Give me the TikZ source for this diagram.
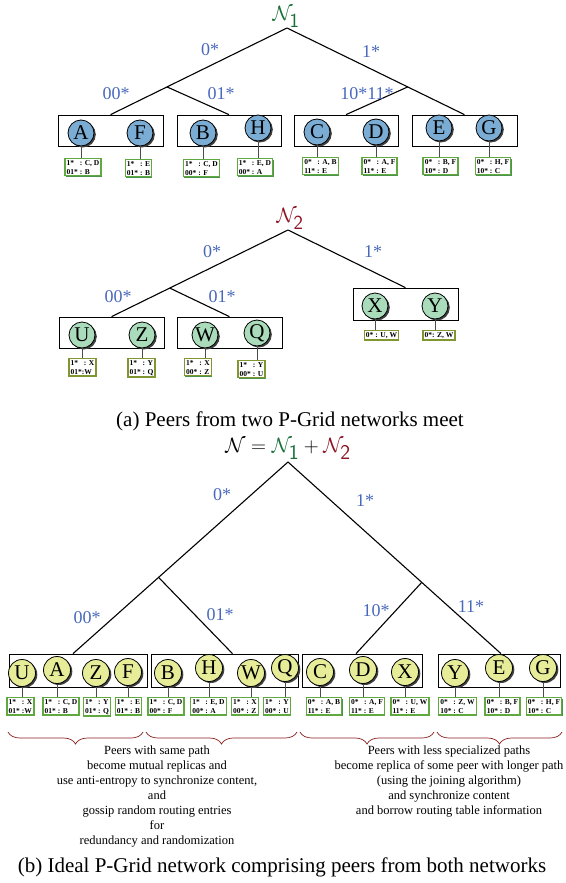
\documentclass[tikz,border=0pt]{standalone}
\usepackage{fontspec}
\setmainfont{Liberation Serif}
\usepackage{tikz}
\usetikzlibrary{calc,shadows,decorations.pathreplacing}
\definecolor{peerblue}{RGB}{122,172,212}
\definecolor{peergreen}{RGB}{170,220,188}
\definecolor{peeryellow}{RGB}{230,236,152}
\definecolor{tabgreen}{RGB}{96,168,64}
\definecolor{tabolive}{RGB}{128,150,48}
\definecolor{pfxblue}{RGB}{72,104,188}
\definecolor{nonegreen}{RGB}{24,112,56}
\definecolor{ntwored}{RGB}{140,20,36}
\definecolor{bracered}{RGB}{140,30,30}

\begin{document}
\begin{tikzpicture}[x=1pt,y=-1pt,
    peer/.style={circle,draw,line width=0.8pt,minimum size=26pt,inner sep=0pt,
        font=\fontsize{21}{21}\selectfont,
        drop shadow={shadow xshift=1.8pt,shadow yshift=-1.5pt,fill=black!75,opacity=1}},
    peerone/.style={peer,fill=peerblue},
    peertwo/.style={peer,fill=peergreen},
    peerall/.style={peer,fill=peeryellow,minimum size=27pt},
    grp/.style={draw,line width=0.7pt,minimum height=31pt,inner sep=0pt},
    rtab/.style={draw=tabgreen,line width=1.4pt,fill=white,inner sep=1.6pt,align=left,anchor=north,
        font=\fontsize{7.5}{8.8}\selectfont\bfseries,
        drop shadow={shadow xshift=0.8pt,shadow yshift=-0.8pt,fill=black!60!green,opacity=0.7}},
    rtabtwo/.style={rtab,draw=tabolive},
    pfx/.style={text=pfxblue,font=\fontsize{18}{18}\selectfont,inner sep=0pt},
    branch/.style={line width=1.1pt},
    stem/.style={line width=0.8pt,draw=black!70},
    brc/.style={draw=bracered,line width=0.7pt,decorate,decoration={brace,mirror,amplitude=12pt,aspect=0.5}},
    note/.style={align=center,font=\fontsize{12.5}{15}\selectfont,inner sep=0pt},
    capt/.style={font=\fontsize{21}{21}\selectfont,inner sep=0pt}]
\useasboundingbox (0,0) rectangle (565,883);

% first network N1
\node[text=nonegreen,font=\fontsize{20}{20}\selectfont,inner sep=0pt] (nameone) at (286,17) {$\mathcal{N}_{\textsf{1}}$};
\node[grp,minimum width=105pt] (g1) at (110.5,130.5) {};
\node[grp,minimum width=104pt] (g2) at (229,130.5) {};
\node[grp,minimum width=104pt] (g3) at (346,130.5) {};
\node[grp,minimum width=105pt] (g4) at (464.5,130.5) {};
\coordinate (r1) at (287,28);
\coordinate (j1) at ($(r1)!0.68!(g1.north)$);
\coordinate (k1) at ($(r1)!0.68!(g4.north)$);
\draw[branch] (r1) -- (g1.north);
\draw[branch] (j1) -- (g2.north);
\draw[branch] (r1) -- (g4.north);
\draw[branch] (k1) -- (g3.north);
\node[pfx] (p1a) at (210,50) {0*};
\node[pfx] (p1b) at (371,52) {1*};
\node[pfx] (p1c) at (116,94) {00*};
\node[pfx] (p1d) at (221,94) {01*};
\node[pfx] (p1e) at (367,94) {10*11*};

\node[peerone] (a1) at (81,133) {A};
\node[peerone] (f1) at (140,133) {F};
\node[peerone] (b1) at (203,133) {B};
\node[peerone] (h1) at (258,128) {H};
\node[peerone] (c1) at (317,132) {C};
\node[peerone] (d1) at (376,132) {D};
\node[peerone] (e1) at (439,128) {E};
\node[peerone] (gg1) at (489,128) {G};

\node[rtab] (ta1) at (83,158) {1*\phantom{0} : C, D\\01* : B};
\node[rtab] (tf1) at (138.5,159) {1*\phantom{0} : E\\01* : B};
\node[rtab] (tb1) at (201.5,159) {1*\phantom{0} : C, D\\00* : F};
\node[rtab] (th1) at (255,158) {1*\phantom{0} : E, D\\00* : A};
\node[rtab] (tc1) at (320.5,157) {0*\phantom{0} : A, B\\11* : E};
\node[rtab] (td1) at (379.5,157) {0*\phantom{0} : A, F\\11* : E};
\node[rtab] (te1) at (440.5,157) {0*\phantom{0} : B, F\\10* : D};
\node[rtab] (tg1) at (493,157) {0*\phantom{0} : H, F\\10* : C};
\draw[stem] (a1.south) -- (a1.south |- ta1.north);
\draw[stem] (f1.south) -- (f1.south |- tf1.north);
\draw[stem] (b1.south) -- (b1.south |- tb1.north);
\draw[stem] (h1.south) -- (h1.south |- th1.north);
\draw[stem] (c1.south) -- (c1.south |- tc1.north);
\draw[stem] (d1.south) -- (d1.south |- td1.north);
\draw[stem] (e1.south) -- (e1.south |- te1.north);
\draw[stem] (gg1.south) -- (gg1.south |- tg1.north);

% second network N2
\node[text=ntwored,font=\fontsize{20}{20}\selectfont,inner sep=0pt] (nametwo) at (290,219) {$\mathcal{N}_{\textsf{2}}$};
\node[grp,minimum width=105pt] (g5) at (111.5,332.5) {};
\node[grp,minimum width=105pt] (g6) at (229.5,332.5) {};
\node[grp,minimum width=105pt,minimum height=32pt] (g7) at (405.5,304) {};
\coordinate (r2) at (288,230);
\coordinate (j2) at ($(r2)!0.67!(g5.north)$);
\draw[branch] (r2) -- (g5.north);
\draw[branch] (j2) -- (g6.north);
\draw[branch] (r2) -- (g7.north);
\node[pfx] (p2a) at (212,252) {0*};
\node[pfx] (p2b) at (373,252) {1*};
\node[pfx] (p2c) at (118,297) {00*};
\node[pfx] (p2d) at (222,297) {01*};

\node[peertwo] (u2) at (82,335) {U};
\node[peertwo] (z2) at (142,335) {Z};
\node[peertwo] (w2) at (205,335) {W};
\node[peertwo] (q2) at (257,333) {Q};
\node[peertwo] (x2) at (375,306) {X};
\node[peertwo] (y2) at (435,306) {Y};

\node[rtabtwo] (tu2) at (82.5,358) {1*\phantom{0} : X\\01*:W};
\node[rtabtwo] (tz2) at (141.5,358) {1*\phantom{0} : Y\\01* : Q};
\node[rtabtwo] (tw2) at (198,358) {1*\phantom{0} : X\\00* : Z};
\node[rtabtwo] (tq2) at (251.5,360) {1*\phantom{0} : Y\\00* : U};
\node[rtabtwo] (tx2) at (381.5,330) {0* : U, W};
\node[rtabtwo] (ty2) at (439,330) {0*: Z, W};
\draw[stem] (u2.south) -- (u2.south |- tu2.north);
\draw[stem] (z2.south) -- (z2.south |- tz2.north);
\draw[stem] (w2.south) -- (w2.south |- tw2.north);
\draw[stem] (q2.south) -- (q2.south |- tq2.north);
\draw[stem] (x2.south) -- (x2.south |- tx2.north);
\draw[stem] (y2.south) -- (y2.south |- ty2.north);

\node[capt] (capa) at (290,421) {(a) Peers from two P-Grid networks meet};

% merged network
\node[font=\fontsize{21}{21}\selectfont,inner sep=0pt] (nameall) at (288,449)
    {$\mathcal{N} = \textcolor{nonegreen}{\mathcal{N}_{\textsf{1}}} + \textcolor{ntwored}{\mathcal{N}_{\textsf{2}}}$};
\node[grp,minimum width=138pt,minimum height=33pt] (g8) at (78,670.5) {};
\node[grp,minimum width=147pt,minimum height=33pt] (g9) at (224.5,670.5) {};
\node[grp,minimum width=120pt,minimum height=33pt] (g10) at (362,670.5) {};
\node[grp,minimum width=122pt,minimum height=33pt] (g11) at (499,670.5) {};
\coordinate (r3) at (288,462);
\coordinate (e8) at ([xshift=-5pt]g8.north);
\coordinate (e9) at ([xshift=8pt]g9.north);
\coordinate (e10) at ([xshift=-6pt]g10.north);
\coordinate (e11) at ([xshift=2pt]g11.north);
\coordinate (j3) at ($(r3)!0.602!(e8)$);
\coordinate (k3) at ($(r3)!0.628!(e11)$);
\draw[branch] (r3) -- (e8);
\draw[branch] (j3) -- (e9);
\draw[branch] (r3) -- (e11);
\draw[branch] (k3) -- (e10);
\node[pfx] (p3a) at (222,495) {0*};
\node[pfx] (p3b) at (365,501) {1*};
\node[pfx] (p3c) at (87,618) {00*};
\node[pfx] (p3d) at (220,615) {01*};
\node[pfx] (p3e) at (376,611) {10*};
\node[pfx] (p3f) at (471,607) {11*};

\node[peerall] (u3) at (22,673) {U};
\node[peerall] (a3) at (57,670) {A};
\node[peerall] (z3) at (96,673) {Z};
\node[peerall] (f3) at (128,672) {F};
\node[peerall] (b3) at (168,673) {B};
\node[peerall] (h3) at (209,668) {H};
\node[peerall] (w3) at (251,673) {W};
\node[peerall] (q3) at (285,668) {Q};
\node[peerall] (c3) at (320,672) {C};
\node[peerall] (d3) at (363,670) {D};
\node[peerall] (x3) at (405,672) {X};
\node[peerall] (y3) at (455,673) {Y};
\node[peerall] (e3) at (499,668) {E};
\node[peerall] (gg3) at (543,668) {G};

\node[rtab] (tu3) at (20.5,697) {1*\phantom{0} : X\\01* :W};
\node[rtab] (ta3) at (61,697) {1*\phantom{0} : C, D\\01* : B};
\node[rtab] (tz3) at (97,697) {1*\phantom{0} : Y\\01* : Q};
\node[rtab] (tf3) at (128.5,697) {1*\phantom{0} : E\\01* : B};
\node[rtab] (tb3) at (166,697) {1*\phantom{0} : C, D\\00* : F};
\node[rtab] (th3) at (208.5,697) {1*\phantom{0} : E, D\\00* : A};
\node[rtab] (tw3) at (245,697) {1*\phantom{0} : X\\00* : Z};
\node[rtab] (tq3) at (277,697) {1*\phantom{0} : Y\\00* : U};
\node[rtab] (tc3) at (324,697) {0*\phantom{0} : A, B\\11* : E};
\node[rtab] (td3) at (367,697) {0*\phantom{0} : A, F\\11* : E};
\node[rtab] (tx3) at (410,697) {0*\phantom{0} : U, W\\11* : E};
\node[rtab] (ty3) at (457.5,697) {0*\phantom{0} : Z, W\\10* : C};
\node[rtab] (te3) at (502.5,697) {0*\phantom{0} : B, F\\10* : D};
\node[rtab] (tg3) at (544,697) {0*\phantom{0} : H, F\\10* : C};
\draw[stem] (u3.south) -- (u3.south |- tu3.north);
\draw[stem] (a3.south) -- (a3.south |- ta3.north);
\draw[stem] (z3.south) -- (z3.south |- tz3.north);
\draw[stem] (f3.south) -- (f3.south |- tf3.north);
\draw[stem] (b3.south) -- (b3.south |- tb3.north);
\draw[stem] (h3.south) -- (h3.south |- th3.north);
\draw[stem] (w3.south) -- (w3.south |- tw3.north);
\draw[stem] (q3.south) -- (q3.south |- tq3.north);
\draw[stem] (c3.south) -- (c3.south |- tc3.north);
\draw[stem] (d3.south) -- (d3.south |- td3.north);
\draw[stem] (x3.south) -- (x3.south |- tx3.north);
\draw[stem] (y3.south) -- (y3.south |- ty3.north);
\draw[stem] (e3.south) -- (e3.south |- te3.north);
\draw[stem] (gg3.south) -- (gg3.south |- tg3.north);

% braces and notes
\draw[brc] (8,732) -- (143,732);
\draw[brc] (146,732) -- (297,732);
\draw[brc] (300,732) -- (434,732);
\draw[brc] (437,732) -- (562,732);
\node[note] (noteleft) at (157,797) {Peers with same path\\become mutual replicas and\\use anti-entropy to synchronize content,\\and\\gossip random routing entries\\for\\redundancy and randomization};
\node[note] (noteright) at (449,782) {Peers with less specialized paths\\become replica of some peer with longer path\\(using the joining algorithm)\\and synchronize content\\and borrow routing table information};

\node[capt] (capb) at (282,867) {(b) Ideal P-Grid network comprising peers from both networks};
\end{tikzpicture}
\end{document}
